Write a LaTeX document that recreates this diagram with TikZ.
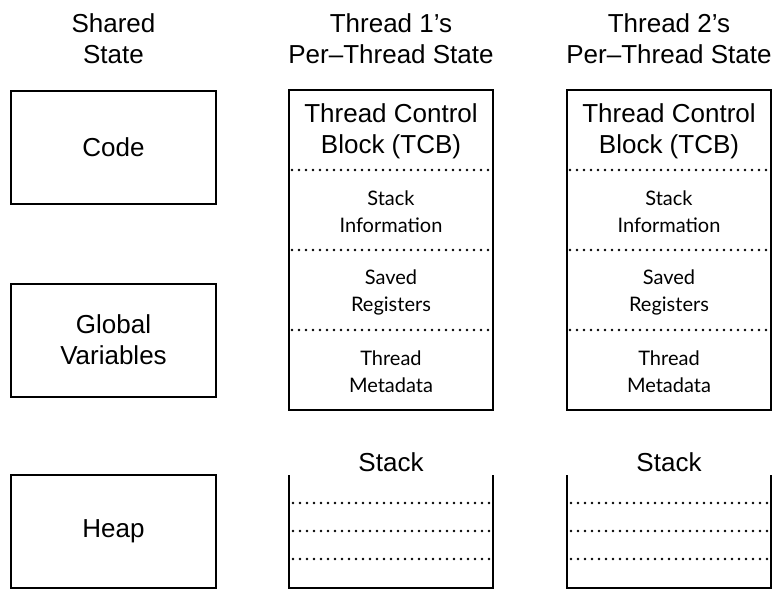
\documentclass[tikz,border=0pt]{standalone}
\usepackage{fontspec}
\setmainfont{Liberation Sans}
\newfontfamily\smallfam{Lato}
\begin{document}
\begin{tikzpicture}[x=1pt,y=-1pt,
  big/.style={font=\fontsize{26}{31}\selectfont, align=center, inner sep=0pt},
  small/.style={font=\smallfam\fontsize{20}{27}\selectfont, align=center, inner sep=0pt},
  box/.style={draw, line width=2pt, minimum width=205pt, minimum height=113pt, inner sep=0pt},
  tcbbox/.style={draw, line width=2pt, minimum width=204pt, minimum height=320pt, inner sep=0pt},
  dotline/.style={line width=2.6pt, line cap=round, dash pattern=on 0pt off 7pt},
  wall/.style={line width=2pt}]
\useasboundingbox (0,0) rectangle (774,590);
% titles
\node[big] (tshared) at (113.5,39) {Shared\\State};
\node[big] (tt1) at (391,39) {Thread 1’s\\Per–Thread State};
\node[big] (tt2) at (669,39) {Thread 2’s\\Per–Thread State};
% shared
\node[box,big] (code) at (113.5,147) {Code};
\node[box,big] (glob) at (113.5,340) {Global\\Variables};
\node[box,big] (heap) at (113.5,531) {Heap};
% threads
\foreach \n/\x in {1/391,2/669}{
  \node[tcbbox] (tcb\n) at (\x,250) {};
  \node[big] (tcbt\n) at (\x,131) {Thread Control\\Block (TCB)};
  \node[small] (si\n) at (\x,212) {Stack\\Information};
  \node[small] (sr\n) at (\x,292) {Saved\\Registers};
  \node[small] (tm\n) at (\x,372) {Thread\\Metadata};
  \foreach \y in {170,250,330}{
    \draw[dotline] (tcb\n.west |- 0,\y) ++(4,0) -- (tcb\n.east |- 0,\y);
  }
  \node[big] (st\n) at (\x,462) {Stack};
  \coordinate (stl\n) at (\x-102,475);
  \coordinate (str\n) at (\x+102,475);
  \coordinate (sbl\n) at (\x-102,587.5);
  \coordinate (sbr\n) at (\x+102,587.5);
  \draw[wall] (stl\n) -- (sbl\n) -- (sbr\n) -- (str\n);
  \foreach \y in {503,531,559}{
    \draw[dotline] (stl\n |- 0,\y) ++(4,0) -- (str\n |- 0,\y);
  }
}
\end{tikzpicture}
\end{document}
